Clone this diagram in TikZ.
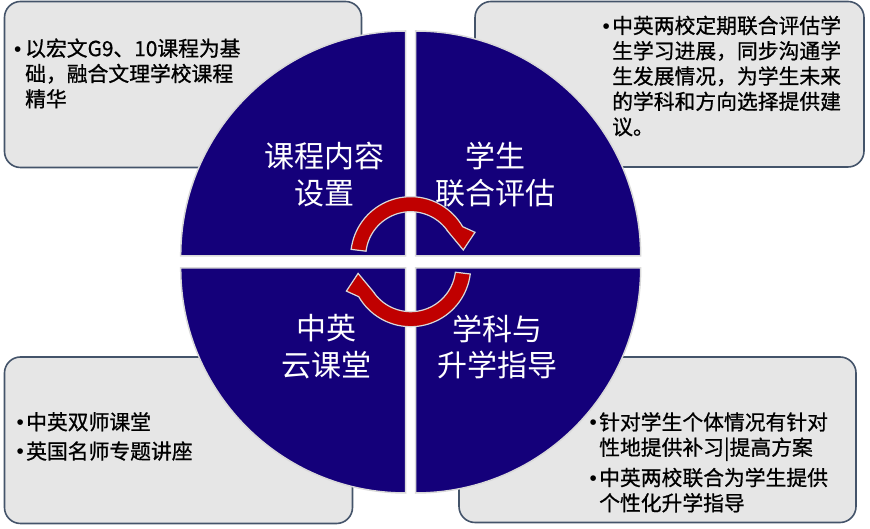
\documentclass[tikz,border=0pt]{standalone}
\usepackage{fontspec}
\newfontfamily\cjk{Noto Sans CJK SC}
\newfontfamily\cjkb{Noto Sans CJK SC}[FakeBold=0.8]
\newfontfamily\bulfont{Liberation Sans}
\definecolor{navy}{RGB}{20,0,122}
\definecolor{boxfill}{RGB}{230,230,230}
\definecolor{boxline}{RGB}{68,84,106}
\definecolor{arrowred}{RGB}{192,0,0}
\definecolor{rim}{RGB}{217,217,217}
\newcommand{\bA}{\makebox[11pt][l]{\bulfont •}}
\newcommand{\iA}{\makebox[11pt]{}}
\newcommand{\bB}{\makebox[9.5pt][l]{\bulfont •}}
\newcommand{\iB}{\makebox[9.5pt]{}}
\begin{document}
\begin{tikzpicture}[x=1pt,y=1pt,
  infobox/.style={fill=boxfill,draw=boxline,line width=1.6pt,rounded corners=16pt},
  quad/.style={fill=navy,draw=rim,line width=1.5pt},
  title/.style={text=white,font=\cjk\fontsize{30}{36.7}\selectfont,align=center,inner sep=0pt},
  btext/.style={text=black,font=\cjkb\fontsize{20.8}{25.3}\selectfont,align=left,inner sep=0pt,anchor=north west},
  cyc/.style={fill=arrowred,draw=rim,line width=1.2pt,line join=miter}]
\useasboundingbox (0,0) rectangle (870,529);
% info boxes
\path[infobox] (4.5,527.5) rectangle (361.5,361.5);
\path[infobox] (475,527.5) rectangle (864,362);
\path[infobox] (4.5,172) rectangle (352.5,5.5);
\path[infobox] (459,172) rectangle (856,6.5);
% quadrants
\path[quad] (405.7,273) -- ++(-225,0) arc[start angle=180,end angle=90,radius=225] -- cycle;
\path[quad] (415.7,273) -- ++(0,225) arc[start angle=90,end angle=0,radius=225] -- cycle;
\path[quad] (405.7,261) -- ++(0,-225) arc[start angle=270,end angle=180,radius=225] -- cycle;
\path[quad] (415.7,261) -- ++(225,0) arc[start angle=0,end angle=-90,radius=225] -- cycle;
% cycle arrows
\path[cyc] plot[domain=0:1,samples=40,smooth] ({410.7+60*cos(173-143*\x)},{272.3+60*sin(173-143*\x)})
  -- (475,296.7) -- (463.3,279) -- (447.9,297.5)
  -- plot[domain=0:1,samples=40,smooth] ({410.7+45*cos(34+139*\x)},{272.3+45*sin(34+139*\x)}) -- cycle;
\begin{scope}[rotate around={180:(410.7,267.3)}]
\path[cyc] plot[domain=0:1,samples=40,smooth] ({410.7+60*cos(173-143*\x)},{272.3+60*sin(173-143*\x)})
  -- (475,296.7) -- (463.3,279) -- (447.9,297.5)
  -- plot[domain=0:1,samples=40,smooth] ({410.7+45*cos(34+139*\x)},{272.3+45*sin(34+139*\x)}) -- cycle;
\end{scope}
% titles
\node[title] (t1) at (324.5,354.3) {课程内容\\设置};
\node[title] (t2) at (495.5,354.3) {学生\\联合评估};
\node[title] (t3) at (326,182) {中英\\云课堂};
\node[title] (t4) at (497,182) {学科与\\升学指导};
% box texts
\node[btext] (x1) at (14,490.7) {\bA 以宏文G9、10课程为基\\\iA 础，融合文理学校课程\\\iA 精华};
\node[btext] (x2) at (602.5,513.5) {\bB 中英两校定期联合评估学\\\iB 生学习进展，同步沟通学\\\iB 生发展情况，为学生未来\\\iB 的学科和方向选择提供建\\\iB 议。};
\node[btext] (x3) at (16.5,117) {\bB 中英双师课堂\\[4pt]\bB 英国名师专题讲座};
\node[btext] (x4) at (589.5,117) {\bB 针对学生个体情况有针对\\\iB 性地提供补习|提高方案\\[5pt]\bB 中英两校联合为学生提供\\\iB 个性化升学指导};
\end{tikzpicture}
\end{document}
